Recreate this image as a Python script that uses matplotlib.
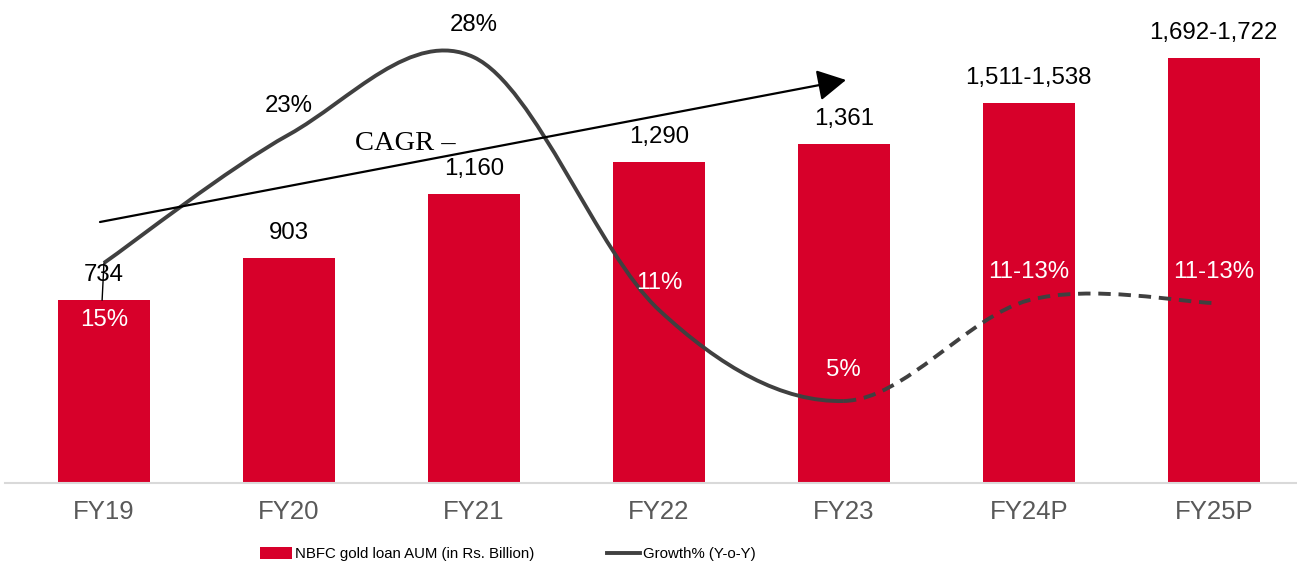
import matplotlib
matplotlib.use("Agg")
import matplotlib.pyplot as plt
from matplotlib.path import Path
from matplotlib.patches import PathPatch, Patch
from matplotlib.lines import Line2D
import numpy as np

# ---------------- data ----------------
categories = ["FY19", "FY20", "FY21", "FY22", "FY23", "FY24P", "FY25P"]
aum_values = [734, 903, 1160, 1290, 1361, 1524.5, 1707]          # bar heights (Rs. Billion)
aum_labels = ["734", "903", "1,160", "1,290", "1,361", "1,511-1,538", "1,692-1,722"]
growth_values = [15.0, 24.3, 29.9, 11.6, 5.0, 12.3, 12.1]        # growth line as drawn (%)
growth_labels = ["15%", "23%", "28%", "11%", "5%", "11-13%", "11-13%"]
growth_label_offsets = [-57, 29, 32, 27, 31, 28, 31]              # px, + above line
growth_label_colors = ["white", "black", "black", "white", "white", "white", "white"]
n_actual = 5   # FY19..FY23 actual -> solid; rest projected -> dashed

# ---------------- style ----------------
RED = "#D7002A"
LINE = "#404040"
TICK = "#595959"
FONT = ["Liberation Sans", "DejaVu Sans"]
plt.rcParams["font.family"] = FONT

W, H, DPI = 1297, 564, 100
fig = plt.figure(figsize=(W / DPI, H / DPI), dpi=DPI)
left_px, right_px, bottom_px, top_px = 5, 1297, 483, 20
ax = fig.add_axes([left_px / W, 1 - bottom_px / H, (right_px - left_px) / W, (bottom_px - top_px) / H])
ax2 = ax.twinx()

x = np.arange(len(categories))
bars = ax.bar(x, aum_values, width=0.5, color=RED, zorder=2)
ax.set_xlim(-0.535, 6.45)
ax.set_ylim(0, 1859)
ax2.set_ylim(-0.94, 32.6)

for a in (ax, ax2):
    for s in a.spines.values():
        s.set_visible(False)
    a.set_yticks([])
ax.spines["bottom"].set_visible(True)
ax.spines["bottom"].set_color("#D9D9D9")
ax.spines["bottom"].set_linewidth(1.5)
ax.set_xticks(x)
ax.set_xticklabels(categories, fontsize=18.5, color=TICK)
ax.tick_params(axis="x", length=0, pad=12)

LABEL_FS = 17.3
# bar value labels
for xi, v, lab in zip(x, aum_values, aum_labels):
    ax.annotate(lab, xy=(xi, v), xytext=(0, 25 * 0.72), textcoords="offset points",
                ha="center", va="center", fontsize=LABEL_FS, color="black", zorder=5)

# smoothed growth line (Bezier through the data points)
pts = np.column_stack([x, growth_values]).astype(float)
n = len(pts)
def seg_path(i0, i1):
    verts = [tuple(pts[i0])]
    codes = [Path.MOVETO]
    for i in range(i0, i1):
        pm = pts[max(i - 1, 0)]
        p0 = pts[i]
        p1 = pts[i + 1]
        p2 = pts[min(i + 2, n - 1)]
        c1 = p0 + (p1 - pm) / 6.0
        c2 = p1 - (p2 - p0) / 6.0
        verts += [tuple(c1), tuple(c2), tuple(p1)]
        codes += [Path.CURVE4] * 3
    return Path(verts, codes)

ax2.add_patch(PathPatch(seg_path(0, n_actual - 1), fill=False, edgecolor=LINE, lw=2.8,
                        capstyle="butt", zorder=4))
ax2.add_patch(PathPatch(seg_path(n_actual - 1, n - 1), fill=False, edgecolor=LINE, lw=2.8,
                        linestyle=(0, (3.2, 2.0)), capstyle="butt", zorder=4))

for xi, g, lab, off, col in zip(x, growth_values, growth_labels, growth_label_offsets, growth_label_colors):
    ax2.annotate(lab, xy=(xi, g), xytext=(0, off * 0.72), textcoords="offset points",
                 ha="center", va="center", fontsize=LABEL_FS, color=col, zorder=6)

# thin connector at FY19
ax2.annotate("", xy=(x[0], growth_values[0]), xycoords=ax2.transData,
             xytext=(x[0] - 0.01, aum_values[0]), textcoords=ax.transData,
             arrowprops=dict(arrowstyle="-", lw=1.0, color="black", shrinkA=0, shrinkB=0), zorder=6)

# CAGR arrow and text (figure pixel layout)
def px(xp, yp):
    return (xp / W, 1 - yp / H)
fig.add_artist(matplotlib.patches.FancyArrowPatch(px(100, 222), px(846, 80), transform=fig.transFigure,
               arrowstyle="-|>,head_length=11,head_width=6", mutation_scale=1.6, lw=1.6,
               color="black", shrinkA=0, shrinkB=0, zorder=7))
fig.text(355 / W, 1 - 143 / H, "CAGR –", family=["Liberation Serif", "DejaVu Serif"],
         fontsize=20.5, ha="left", va="center")

# legend (two pieces)
LEG_FS = 10.8
leg1 = fig.legend(handles=[Patch(facecolor=RED, edgecolor="none")],
                  labels=["NBFC gold loan AUM (in Rs. Billion)"],
                  loc="center left", bbox_to_anchor=(260 / W, 1 - 554 / H), frameon=False,
                  handlelength=2.15, handleheight=0.9, handletextpad=0.2, borderpad=0, borderaxespad=0,
                  prop=dict(size=LEG_FS))
leg2 = fig.legend(handles=[Line2D([0], [0], color=LINE, lw=2.8)],
                  labels=["Growth% (Y-o-Y)"],
                  loc="center left", bbox_to_anchor=(607 / W, 1 - 554 / H), frameon=False,
                  handlelength=2.2, handletextpad=0.2, borderpad=0, borderaxespad=0,
                  prop=dict(size=LEG_FS))
for t in leg1.get_texts() + leg2.get_texts():
    t.set_color("black")

fig.savefig("out.png", dpi=DPI)
